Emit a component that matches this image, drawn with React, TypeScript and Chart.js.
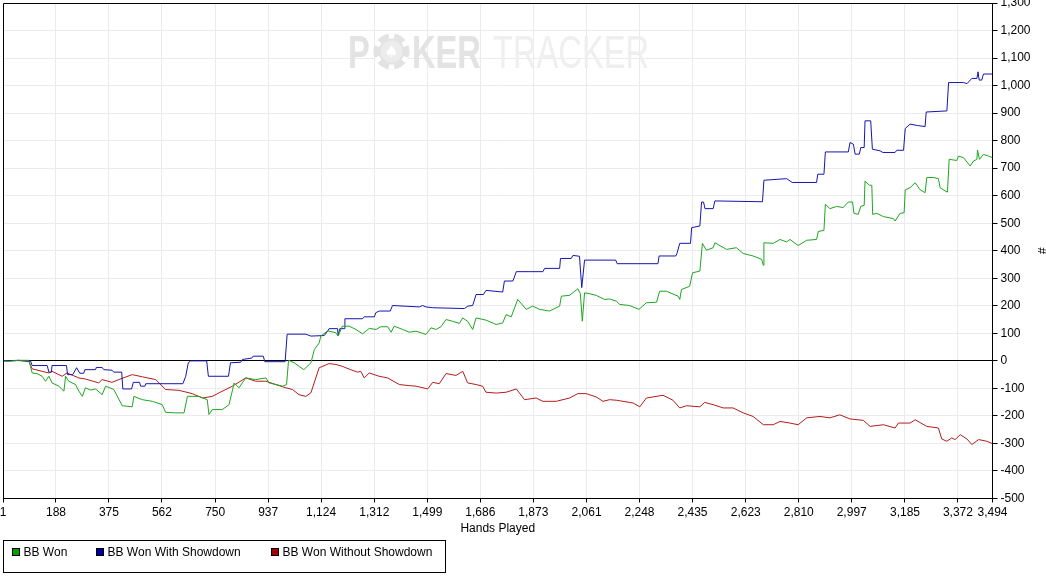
import { useEffect, useRef } from 'react';
import { Chart, registerables } from 'chart.js';

Chart.register(...registerables);

const seriesNames = ['BB Won', 'BB Won With Showdown', 'BB Won Without Showdown'];
const lineColors = ['#1fa61f', '#1616ae', '#b41c1c'];
const legendColors = ['#00a000', '#0000a0', '#a00000'];

// [hand, big blinds won]
const bbWon: [number, number][] = [
  [1, 0], [21, -2], [56, 2], [92, 2], [98, -20], [104, -44], [121, -46], [139, -56], [151, -74], [163, -56],
  [174, -80], [198, -92], [216, -110], [222, -56], [233, -74], [257, -86], [269, -110], [281, -129], [292, -98],
  [310, -106], [328, -102], [351, -123], [363, -92], [392, -104], [422, -163], [457, -167], [463, -129],
  [493, -141], [528, -147], [563, -159], [575, -187], [610, -189], [640, -189], [652, -129], [693, -129],
  [722, -141], [728, -195], [740, -177], [775, -177], [799, -159], [817, -80], [834, -98], [858, -62],
  [893, -68], [929, -62], [940, -80], [988, -92], [1002, -86], [1009, 2], [1029, -7], [1046, -20], [1063, -32],
  [1088, -7], [1100, 41], [1117, 65], [1123, 90], [1146, 108], [1152, 108], [1176, 102], [1184, 90],
  [1199, 126], [1223, 126], [1247, 114], [1270, 98], [1294, 118], [1318, 114], [1335, 124], [1359, 124],
  [1371, 104], [1382, 126], [1412, 114], [1435, 104], [1459, 108], [1494, 96], [1512, 120], [1530, 114],
  [1547, 124], [1565, 150], [1588, 144], [1612, 136], [1624, 156], [1641, 144], [1659, 114], [1671, 156],
  [1706, 148], [1742, 132], [1765, 138], [1777, 168], [1795, 160], [1818, 223], [1848, 187], [1871, 199],
  [1895, 187], [1930, 181], [1966, 199], [1972, 235], [2001, 238], [2030, 262], [2039, 245], [2046, 144],
  [2054, 247], [2066, 245], [2095, 238], [2125, 223], [2142, 225], [2166, 217], [2178, 205], [2213, 201],
  [2246, 187], [2272, 211], [2308, 213], [2319, 253], [2343, 253], [2384, 235], [2390, 223], [2396, 259],
  [2425, 271], [2435, 320], [2461, 326], [2470, 427], [2484, 402], [2508, 411], [2514, 429], [2555, 405],
  [2590, 411], [2614, 390], [2649, 381], [2679, 369], [2685, 347], [2687, 429], [2720, 427], [2744, 441],
  [2767, 432], [2779, 441], [2808, 419], [2838, 438], [2873, 441], [2879, 470], [2899, 474], [2904, 569],
  [2920, 553], [2944, 561], [2967, 557], [2985, 577], [3000, 577], [3005, 536], [3020, 532], [3029, 561],
  [3041, 565], [3044, 653], [3059, 638], [3068, 638], [3071, 532], [3085, 536], [3109, 524], [3144, 517],
  [3150, 508], [3168, 536], [3182, 538], [3186, 621], [3203, 629], [3221, 647], [3239, 621], [3256, 611],
  [3262, 666], [3285, 666], [3303, 662], [3309, 629], [3327, 617], [3335, 613], [3341, 732], [3368, 728],
  [3374, 744], [3392, 738], [3415, 708], [3427, 726], [3439, 732], [3441, 766], [3448, 732], [3462, 750],
  [3480, 744], [3494, 738],
];

const bbWonShowdown: [number, number][] = [
  [1, 0], [56, 2], [92, -2], [98, 0], [104, -17], [157, -17], [163, -41], [172, -41], [174, -17], [225, -17],
  [229, -50], [247, -50], [261, -25], [272, -45], [286, -45], [290, -32], [328, -32], [330, -24], [351, -24],
  [357, -32], [386, -34], [392, -41], [420, -41], [424, -102], [455, -102], [461, -78], [483, -78], [487, -92],
  [502, -92], [505, -83], [636, -83], [646, -56], [655, -7], [663, 0], [720, 0], [726, -56], [797, -56],
  [804, -7], [840, -5], [846, 5], [879, 10], [884, 17], [920, 17], [925, -3], [997, -3], [1004, 97],
  [1070, 97], [1088, 90], [1135, 92], [1147, 108], [1152, 117], [1182, 117], [1184, 92], [1190, 117],
  [1206, 117], [1208, 153], [1270, 153], [1276, 160], [1312, 160], [1317, 175], [1329, 181], [1368, 181],
  [1376, 201], [1471, 196], [1482, 201], [1494, 196], [1518, 193], [1630, 190], [1642, 199], [1659, 201],
  [1671, 241], [1697, 241], [1706, 256], [1765, 250], [1771, 290], [1801, 290], [1813, 324], [1907, 324],
  [1913, 336], [1966, 336], [1969, 372], [2007, 372], [2013, 383], [2036, 380], [2044, 266], [2054, 366],
  [2164, 366], [2169, 353], [2313, 353], [2317, 381], [2376, 381], [2380, 390], [2390, 427], [2428, 427],
  [2432, 484], [2461, 490], [2467, 577], [2474, 577], [2479, 553], [2508, 553], [2514, 581], [2682, 578],
  [2687, 656], [2767, 662], [2787, 648], [2873, 648], [2877, 678], [2899, 678], [2904, 759], [2985, 759],
  [2991, 793], [3003, 787], [3009, 751], [3024, 751], [3029, 775], [3041, 775], [3044, 872], [3064, 872],
  [3070, 769], [3097, 763], [3107, 757], [3150, 757], [3156, 765], [3180, 765], [3186, 844], [3203, 860],
  [3229, 855], [3256, 851], [3260, 904], [3333, 908], [3339, 1011], [3392, 1011], [3404, 1007], [3421, 1026],
  [3439, 1026], [3443, 1050], [3447, 1020], [3456, 1020], [3462, 1042], [3494, 1042],
];

const bbWonNoShowdown: [number, number][] = [
  [1, 0], [56, 1], [92, -1], [104, -29], [139, -38], [163, -44], [174, -38], [210, -56], [227, -44], [269, -62],
  [292, -66], [339, -80], [351, -68], [386, -78], [410, -68], [457, -50], [493, -58], [540, -68], [575, -104],
  [622, -107], [669, -119], [705, -135], [740, -129], [764, -116], [811, -92], [858, -62], [893, -74],
  [929, -74], [964, -86], [1000, -98], [1023, -104], [1046, -123], [1070, -129], [1088, -116], [1117, -25],
  [1152, -10], [1176, -13], [1199, -20], [1228, -32], [1253, -41], [1264, -38], [1276, -62], [1294, -44],
  [1329, -56], [1359, -62], [1400, -86], [1435, -90], [1459, -92], [1500, -102], [1518, -78], [1541, -83],
  [1565, -46], [1600, -53], [1624, -38], [1641, -80], [1671, -86], [1694, -92], [1706, -114], [1742, -117],
  [1777, -114], [1813, -102], [1842, -141], [1883, -135], [1907, -147], [1954, -147], [2001, -135],
  [2030, -119], [2060, -119], [2095, -131], [2119, -147], [2142, -141], [2166, -143], [2225, -153],
  [2249, -167], [2272, -135], [2331, -125], [2366, -143], [2390, -171], [2414, -163], [2461, -167],
  [2478, -151], [2508, -159], [2543, -171], [2578, -171], [2614, -189], [2649, -202], [2685, -232],
  [2720, -232], [2744, -220], [2779, -226], [2808, -232], [2838, -207], [2885, -202], [2920, -207],
  [2955, -196], [2991, -211], [3038, -216], [3062, -238], [3109, -232], [3150, -244], [3162, -226],
  [3203, -226], [3221, -214], [3262, -238], [3303, -244], [3315, -284], [3333, -292], [3350, -280],
  [3362, -286], [3380, -268], [3404, -284], [3421, -304], [3445, -286], [3474, -292], [3494, -301],
];

const xTicks = [1, 188, 375, 562, 750, 937, 1124, 1312, 1499, 1686, 1873, 2061, 2248, 2435, 2623, 2810, 2997, 3185, 3372, 3494];
const yMin = -500;
const yMax = 1300;
const yStep = 100;

const FONT = "'Liberation Sans', Arial, sans-serif";

// light watermark, border and the boxed legend at the bottom
const decorations = {
  id: 'decorations',
  beforeDatasetsDraw(chart: Chart) {
    const ctx = chart.ctx;
    ctx.save();
    const base = 68;
    const sx = 0.71;
    ctx.textBaseline = 'alphabetic';
    ctx.fillStyle = '#e3e3e3';
    ctx.font = `bold 46px ${FONT}`;
    ctx.save();
    ctx.translate(348, base);
    ctx.scale(sx, 1);
    ctx.fillText('P', 0, 0);
    ctx.restore();
    ctx.save();
    ctx.translate(412, base);
    ctx.scale(sx, 1);
    ctx.fillText('KER', 0, 0);
    ctx.restore();
    ctx.fillStyle = '#efefef';
    ctx.font = `46px ${FONT}`;
    ctx.save();
    ctx.translate(493, base);
    ctx.scale(sx, 1);
    ctx.fillText('TRACKER', 0, 0);
    ctx.restore();
    // poker chip standing in for the O
    const cx = 391.5;
    const cy = 51.5;
    ctx.fillStyle = '#e3e3e3';
    ctx.beginPath();
    ctx.arc(cx, cy, 18, 0, Math.PI * 2);
    ctx.fill();
    ctx.strokeStyle = '#ffffff';
    ctx.lineWidth = 5;
    for (let i = 0; i < 6; i++) {
      const a = (i * Math.PI) / 3 + Math.PI / 6;
      ctx.beginPath();
      ctx.arc(cx, cy, 15.5, a - 0.17, a + 0.17);
      ctx.stroke();
    }
    ctx.fillStyle = '#ececec';
    ctx.beginPath();
    ctx.arc(cx, cy, 11, 0, Math.PI * 2);
    ctx.fill();
    ctx.fillStyle = '#ffffff';
    ctx.font = "16px 'DejaVu Sans'";
    ctx.textAlign = 'center';
    ctx.textBaseline = 'middle';
    ctx.fillText('\u2660', cx, cy + 1);
    ctx.restore();
  },
  afterDraw(chart: Chart) {
    const ctx = chart.ctx;
    const { left, top, right } = chart.chartArea;
    ctx.save();
    ctx.strokeStyle = '#000';
    ctx.lineWidth = 1;
    ctx.beginPath();
    ctx.moveTo(Math.round(left) + 0.5, chart.chartArea.bottom);
    ctx.lineTo(Math.round(left) + 0.5, Math.round(top) + 0.5);
    ctx.lineTo(right, Math.round(top) + 0.5);
    ctx.stroke();

    // legend box
    const boxTop = 540.5;
    ctx.strokeRect(3.5, boxTop, 442, 32);
    const squareX = [12.5, 96.5, 271.5];
    ctx.font = `12px ${FONT}`;
    ctx.textBaseline = 'middle';
    ctx.textAlign = 'left';
    seriesNames.forEach((name, i) => {
      ctx.fillStyle = legendColors[i];
      ctx.fillRect(squareX[i], boxTop + 8, 7, 7);
      ctx.strokeRect(squareX[i], boxTop + 8, 7, 7);
      ctx.fillStyle = '#000';
      ctx.fillText(name, squareX[i] + 11, boxTop + 12.5);
    });
    ctx.restore();
  },
};

export default function App() {
  const canvasRef = useRef<HTMLCanvasElement>(null);
  const chartRef = useRef<Chart | null>(null);

  useEffect(() => {
    if (!canvasRef.current) return;
    if (chartRef.current) chartRef.current.destroy();

    Chart.defaults.font.family = FONT;
    Chart.defaults.font.size = 12;
    Chart.defaults.color = '#000';

    const series = [bbWon, bbWonShowdown, bbWonNoShowdown];

    chartRef.current = new Chart(canvasRef.current, {
      type: 'line',
      data: {
        datasets: series.map((points, i) => ({
          label: seriesNames[i],
          data: points.map(([x, y]) => ({ x, y })),
          borderColor: lineColors[i],
          backgroundColor: lineColors[i],
          borderWidth: 1,
          pointRadius: 0,
          tension: 0,
          fill: false,
        })),
      },
      options: {
        animation: false,
        responsive: true,
        maintainAspectRatio: false,
        events: [],
        layout: {
          autoPadding: false,
          padding: { left: 3, top: 3, right: 0, bottom: 41 },
        },
        plugins: {
          legend: { display: false },
          tooltip: { enabled: false },
        },
        scales: {
          x: {
            type: 'linear',
            min: 1,
            max: 3494,
            afterBuildTicks: (axis) => {
              axis.ticks = xTicks.map((value) => ({ value }));
            },
            afterFit: (axis: any) => {
              axis.height = 39.5;
              axis.paddingLeft = 0;
              axis.paddingRight = 0;
            },
            ticks: {
              autoSkip: false,
              maxRotation: 0,
              padding: 3,
              callback: (v) => Number(v).toLocaleString('en-US'),
            },
            grid: { color: '#ebebeb', tickColor: '#000', tickLength: 4 },
            border: { color: '#000' },
            title: {
              display: true,
              text: 'Hands Played',
              padding: { top: 2, bottom: 2 },
            },
          },
          y: {
            type: 'linear',
            position: 'right',
            min: yMin,
            max: yMax,
            afterFit: (axis: any) => {
              axis.width = 53.5;
              axis.paddingTop = 0;
              axis.paddingBottom = 0;
            },
            ticks: {
              stepSize: yStep,
              autoSkip: false,
              padding: 3,
              callback: (v) => Number(v).toLocaleString('en-US'),
            },
            grid: {
              color: (c) => (c.tick && c.tick.value === 0 ? '#000' : '#ebebeb'),
              tickColor: '#000',
              tickLength: 5,
            },
            border: { color: '#000' },
            title: {
              display: true,
              text: '#',
              padding: { top: -3, bottom: 4 },
            },
          },
        },
      },
      plugins: [decorations],
    });

    return () => {
      if (chartRef.current) {
        chartRef.current.destroy();
        chartRef.current = null;
      }
    };
  }, []);

  return (
    <div style={{ position: 'absolute', left: 0, top: 0, width: 1046, height: 579, background: '#fff' }}>
      <canvas ref={canvasRef} />
    </div>
  );
}
